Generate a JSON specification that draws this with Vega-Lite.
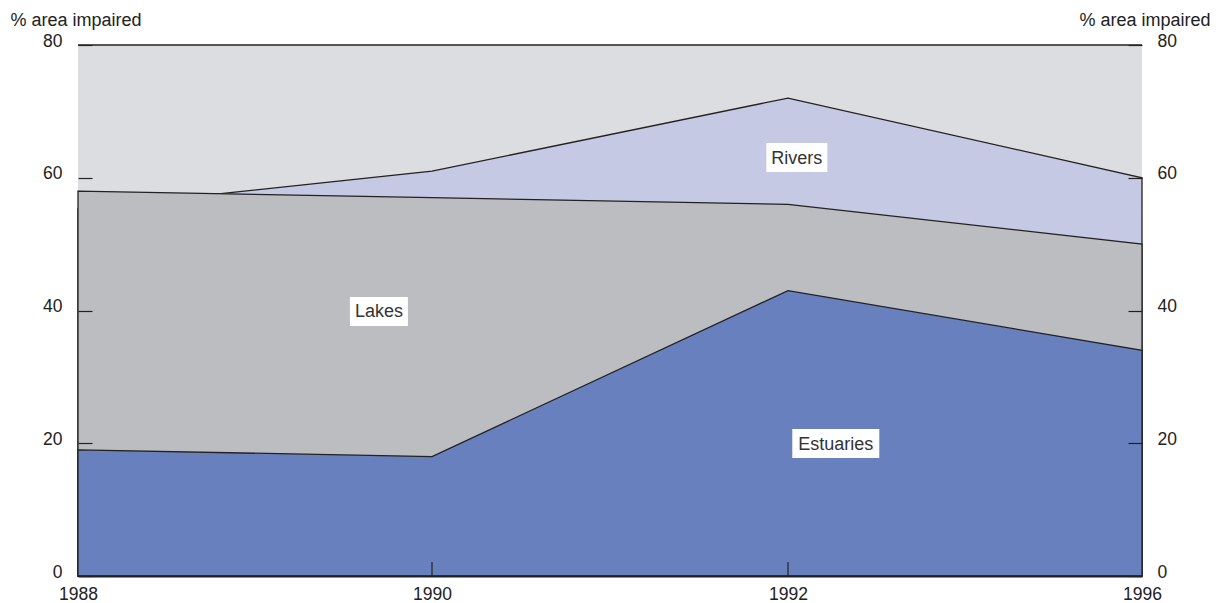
{
  "$schema": "https://vega.github.io/schema/vega-lite/v6.json",
  "width": 1064,
  "height": 531,
  "autosize": {"type": "none"},
  "padding": {"left": 78, "top": 45, "right": 81, "bottom": 27},
  "background": "white",
  "config": {
    "view": {"fill": "#dcdde0", "stroke": null},
    "axis": {"grid": false}
  },
  "datasets": {
    "areas": [
      {"year": 1988, "series": "Rivers", "value": 55.3},
      {"year": 1990, "series": "Rivers", "value": 61},
      {"year": 1992, "series": "Rivers", "value": 72},
      {"year": 1996, "series": "Rivers", "value": 60},
      {"year": 1988, "series": "Lakes", "value": 58},
      {"year": 1990, "series": "Lakes", "value": 57},
      {"year": 1992, "series": "Lakes", "value": 56},
      {"year": 1996, "series": "Lakes", "value": 50},
      {"year": 1988, "series": "Estuaries", "value": 19},
      {"year": 1990, "series": "Estuaries", "value": 18},
      {"year": 1992, "series": "Estuaries", "value": 43},
      {"year": 1996, "series": "Estuaries", "value": 34}
    ],
    "labels": [
      {"label": "Rivers", "year": 1992.1, "value": 63.05},
      {"label": "Lakes", "year": 1989.7, "value": 39.85},
      {"label": "Estuaries", "year": 1992.54, "value": 19.96}
    ],
    "ticks": [
      {"year": 1990},
      {"year": 1992}
    ]
  },
  "layer": [
    {
      "data": {"name": "areas"},
      "transform": [{"filter": "datum.series === 'Rivers'"}],
      "mark": {"type": "area", "fill": "#c5c9e4", "stroke": "#222222", "strokeWidth": 1.3, "strokeJoin": "miter"},
      "encoding": {
        "x": {
          "field": "year", "type": "quantitative",
          "scale": {"domain": [1988, 1990, 1992, 1996], "range": [0, 354, 710, 1064], "nice": false, "zero": false},
          "axis": {
            "orient": "bottom", "values": [1988, 1990, 1992, 1996], "format": "d", "title": null, "zindex": 1, "grid": false,
            "domainColor": "#222222", "domainWidth": 2, "ticks": false,
            "labelFont": "Liberation Sans, sans-serif", "labelFontSize": 17.5,
            "labelColor": "#222222", "labelPadding": 9, "labelFlush": false, "labelOverlap": false, "labelBound": false
          }
        },
        "y": {
          "field": "value", "type": "quantitative",
          "scale": {"domain": [0, 80], "nice": false, "zero": true},
          "axis": {
            "orient": "left", "values": [0, 20, 40, 60, 80], "domain": false, "zindex": 1, "grid": false,
            "tickColor": "#222222", "tickSize": -14, "tickWidth": 1.2,
            "labelFont": "Liberation Sans, sans-serif", "labelFontSize": 17.5,
            "labelColor": "#222222", "labelPadding": 30, "labelOffset": -4, "labelOverlap": false, "labelBound": false, "labelFlush": false,
            "title": "% area impaired", "titleAngle": 0, "titleX": -68, "titleY": -20,
            "titleAlign": "left", "titleBaseline": "alphabetic",
            "titleFont": "Liberation Sans, sans-serif", "titleFontSize": 18, "titleFontWeight": "normal", "titleColor": "#222222"
          }
        }
      }
    },
    {
      "data": {"name": "areas"},
      "transform": [{"filter": "datum.series === 'Lakes'"}],
      "mark": {"type": "area", "fill": "#bcbdc1", "stroke": "#222222", "strokeWidth": 1.3, "strokeJoin": "miter"},
      "encoding": {
        "x": {"field": "year", "type": "quantitative"},
        "y": {"field": "value", "type": "quantitative", "axis": null}
      }
    },
    {
      "data": {"name": "areas"},
      "transform": [{"filter": "datum.series === 'Estuaries'"}],
      "mark": {"type": "area", "fill": "#6880bd", "stroke": "#222222", "strokeWidth": 1.3, "strokeJoin": "miter"},
      "encoding": {
        "x": {"field": "year", "type": "quantitative"},
        "y": {"field": "value", "type": "quantitative", "axis": null}
      }
    },
    {
      "data": {"name": "ticks"},
      "mark": {"type": "rule", "stroke": "#222222", "strokeWidth": 1.2, "y2Offset": -14},
      "encoding": {
        "x": {"field": "year", "type": "quantitative"},
        "y": {"datum": 0, "type": "quantitative", "axis": null},
        "y2": {"datum": 0}
      }
    },
    {
      "data": {"values": [{"top": 80}]},
      "mark": {"type": "rule", "stroke": "#222222", "strokeWidth": 1.6},
      "encoding": {
        "y": {
          "field": "top", "type": "quantitative",
          "axis": {
            "orient": "right", "values": [0, 20, 40, 60, 80], "domain": false, "zindex": 1, "grid": false,
            "tickColor": "#222222", "tickSize": -14, "tickWidth": 1.2,
            "labelFont": "Liberation Sans, sans-serif", "labelFontSize": 17.5,
            "labelColor": "#222222", "labelPadding": 29, "labelOffset": -4, "labelOverlap": false, "labelBound": false, "labelFlush": false,
            "title": "% area impaired", "titleAngle": 0, "titleX": 68, "titleY": -20,
            "titleAlign": "right", "titleBaseline": "alphabetic",
            "titleFont": "Liberation Sans, sans-serif", "titleFontSize": 18, "titleFontWeight": "normal", "titleColor": "#222222"
          }
        }
      }
    },
    {
      "data": {"name": "labels"},
      "transform": [{"filter": "datum.label === 'Rivers'"}],
      "mark": {"type": "rect", "fill": "white", "xOffset": -30.5, "x2Offset": 30.5, "yOffset": -14.5, "y2Offset": 14.5},
      "encoding": {
        "x": {"field": "year", "type": "quantitative"},
        "x2": {"field": "year"},
        "y": {"field": "value", "type": "quantitative", "axis": null},
        "y2": {"field": "value"}
      }
    },
    {
      "data": {"name": "labels"},
      "transform": [{"filter": "datum.label === 'Lakes'"}],
      "mark": {"type": "rect", "fill": "white", "xOffset": -29, "x2Offset": 29, "yOffset": -14.5, "y2Offset": 14.5},
      "encoding": {
        "x": {"field": "year", "type": "quantitative"},
        "x2": {"field": "year"},
        "y": {"field": "value", "type": "quantitative", "axis": null},
        "y2": {"field": "value"}
      }
    },
    {
      "data": {"name": "labels"},
      "transform": [{"filter": "datum.label === 'Estuaries'"}],
      "mark": {"type": "rect", "fill": "white", "xOffset": -43.5, "x2Offset": 43.5, "yOffset": -14.5, "y2Offset": 14.5},
      "encoding": {
        "x": {"field": "year", "type": "quantitative"},
        "x2": {"field": "year"},
        "y": {"field": "value", "type": "quantitative", "axis": null},
        "y2": {"field": "value"}
      }
    },
    {
      "data": {"name": "labels"},
      "mark": {"type": "text", "font": "Liberation Sans, sans-serif", "fontSize": 18, "color": "#333333", "align": "center", "baseline": "middle", "dy": 1},
      "encoding": {
        "x": {"field": "year", "type": "quantitative"},
        "y": {"field": "value", "type": "quantitative", "axis": null},
        "text": {"field": "label"}
      }
    }
  ],
  "resolve": {"axis": {"y": "independent"}}
}
